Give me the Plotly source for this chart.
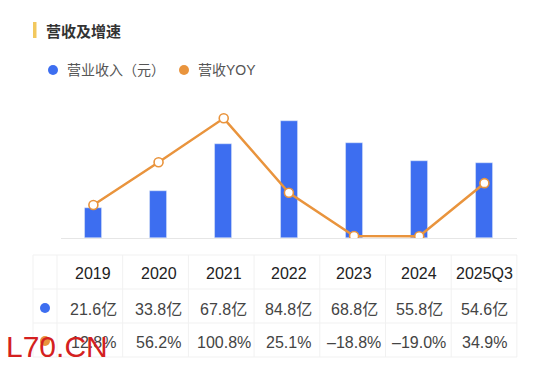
import plotly.graph_objects as go

categories = ["2019", "2020", "2021", "2022", "2023", "2024", "2025Q3"]
revenue = [21.6, 33.8, 67.8, 84.8, 68.8, 55.8, 54.6]          # 亿元
yoy = [12.8, 56.2, 100.8, 25.1, -18.8, -19.0, 34.9]           # %
title_text = "营收及增速"
legend_names = ["营业收入（元）", "营收YOY"]
watermark = "L70.CN"

BLUE = "#3D6EF0"
ORANGE = "#E9943D"
FONT = "Liberation Sans, Noto Sans CJK SC, sans-serif"

W, H = 550, 369
ML, MR, MT, MB = 33, 33, 100, 131
PW = W - ML - MR
PH = H - MT - MB


def px(x):
    return (x - ML) / PW


def py(y):
    return (H - MB - y) / PH


fig = go.Figure()
fig.add_trace(go.Bar(x=categories, y=revenue, marker_color=BLUE, width=0.26,
                     showlegend=False, hoverinfo="skip"))
fig.add_trace(go.Scatter(x=categories, y=yoy, yaxis="y2", mode="lines+markers",
                         line=dict(color=ORANGE, width=2.5),
                         marker=dict(size=9, color="white",
                                     line=dict(color=ORANGE, width=1.6)),
                         showlegend=False, hoverinfo="skip"))
# invisible trace giving the table axis its categories
fig.add_trace(go.Scatter(x=categories, y=[0] * len(categories), xaxis="x2",
                         mode="markers", marker=dict(opacity=0),
                         showlegend=False, hoverinfo="skip"))

shapes = []
annotations = []

# title
shapes.append(dict(type="rect", xref="paper", yref="paper", x0=px(33), x1=px(36.5),
                   y0=py(38), y1=py(22), fillcolor="#F2C85E", line=dict(width=0)))
annotations.append(dict(text=title_text, xref="paper", yref="paper", x=px(44), y=py(30),
                        xanchor="left", yanchor="middle", showarrow=False,
                        font=dict(family="Noto Sans CJK SC", size=15, color="#333",
                                  weight="bold")))

# legend
for cx, tx, col, name in [(53, 65, BLUE, legend_names[0]), (184, 196, ORANGE, legend_names[1])]:
    shapes.append(dict(type="circle", xref="paper", yref="paper",
                       x0=px(cx - 5), x1=px(cx + 5), y0=py(75), y1=py(65),
                       fillcolor=col, line=dict(width=0)))
    annotations.append(dict(text=name, xref="paper", yref="paper", x=px(tx), y=py(70),
                            xanchor="left", yanchor="middle", showarrow=False,
                            font=dict(family=FONT, size=14, color="#555")))

# table borders
grid = "#F1F1F1"
for yy in [255, 289, 323, 357]:
    shapes.append(dict(type="line", xref="paper", yref="paper", x0=px(33), x1=px(517),
                       y0=py(yy), y1=py(yy), line=dict(color=grid, width=1)))
for xx in [33, 57] + [57 + 65.7 * (i + 1) for i in range(len(categories))]:
    shapes.append(dict(type="line", xref="paper", yref="paper", x0=px(xx), x1=px(xx),
                       y0=py(255), y1=py(357), line=dict(color=grid, width=1)))

# table dots
for yy, col in [(308, BLUE), (341, ORANGE)]:
    shapes.append(dict(type="circle", xref="paper", yref="paper",
                       x0=px(40), x1=px(50), y0=py(yy + 5), y1=py(yy - 5),
                       fillcolor=col, line=dict(width=0)))

# table text (x given as category index on the table axis)
for i, (c, r, g) in enumerate(zip(categories, revenue, yoy)):
    annotations.append(dict(text=c, xref="x2", yref="paper", x=i, y=py(273),
                            showarrow=False, yanchor="middle",
                            font=dict(family=FONT, size=16, color="#222", weight=500)))
    annotations.append(dict(text=f"{r:.1f}亿", xref="x2", yref="paper", x=i, y=py(309),
                            showarrow=False, yanchor="middle",
                            font=dict(family=FONT, size=16, color="#444")))
    gs = f"{g:.1f}%".replace("-", "–")
    annotations.append(dict(text=gs, xref="x2", yref="paper", x=i, y=py(342),
                            showarrow=False, yanchor="middle",
                            font=dict(family=FONT, size=16, color="#444")))

# watermark
annotations.append(dict(text=watermark, xref="paper", yref="paper", x=px(4), y=py(346),
                        xanchor="left", yanchor="middle", showarrow=False,
                        font=dict(family="Liberation Sans", size=30, color="#D42020")))

fig.update_layout(
    width=W, height=H,
    margin=dict(l=ML, r=MR, t=MT, b=MB),
    paper_bgcolor="white", plot_bgcolor="white",
    bargap=0,
    xaxis=dict(type="category", domain=[px(60.8), 1], range=[-0.5, 6.5],
               showticklabels=False, showgrid=False, zeroline=False,
               showline=True, linecolor="#E6E6E6", linewidth=1, ticks=""),
    xaxis2=dict(type="category", domain=[px(57), 1], range=[-0.5, 6.5], anchor="y",
                overlaying="x", visible=False),
    yaxis=dict(range=[0, 100], visible=False, showgrid=False, zeroline=False),
    yaxis2=dict(range=[-20.8, 119.4], overlaying="y", side="right", visible=False,
                showgrid=False, zeroline=False),
    shapes=shapes,
    annotations=annotations,
)

fig.write_html("out.html", config={"displayModeBar": False},
               post_script="document.body.style.margin='0';document.body.style.overflow='hidden';")
